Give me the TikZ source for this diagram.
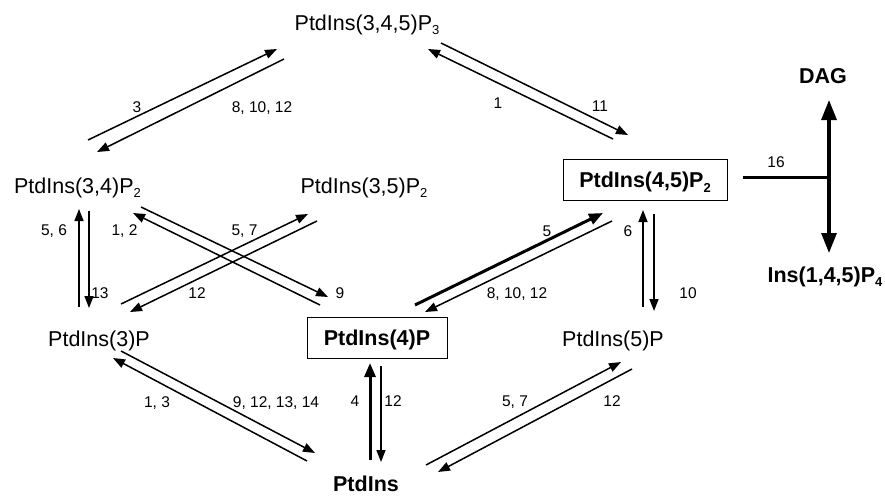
\documentclass[tikz,border=0pt]{standalone}
\usepackage{fontspec}
\setmainfont{Liberation Sans}
\usetikzlibrary{arrows.meta}
\newcommand{\mysub}[1]{\raisebox{-4.5pt}{\fontsize{13}{13}\selectfont #1}}
\begin{document}
\begin{tikzpicture}[x=1pt,y=-1pt,
  comp/.style={inner sep=0pt,anchor=base,font=\fontsize{21.5}{24}\selectfont},
  bcomp/.style={inner sep=0pt,anchor=base,font=\fontsize{21.5}{24}\selectfont\bfseries},
  boxed/.style={draw,line width=1pt,inner sep=0pt,minimum width=#1,minimum height=41pt,text height=16pt,text depth=0pt,font=\fontsize{21.5}{24}\selectfont\bfseries},
  lab/.style={inner sep=0pt,text height=11pt,text depth=0pt,font=\fontsize{15.5}{18}\selectfont},
  thin/.style={line width=1.5pt,-{Triangle[length=12pt,width=9pt]}},
  thick/.style={line width=3pt,-{Triangle[length=14pt,width=11pt]}},
  bar/.style={line width=3pt}]
\useasboundingbox (0,0) rectangle (885,495);
% components
\node[comp] (p345) at (367,30.5) {PtdIns(3,4,5)P\mysub{3}};
\node[comp] (p34) at (77.5,193) {PtdIns(3,4)P\mysub{2}};
\node[comp] (p35) at (364,193) {PtdIns(3,5)P\mysub{2}};
\node[boxed=164pt] (p45) at (645,179.5) {PtdIns(4,5)P\mysub{2}};
\node[bcomp] (dag) at (823,83) {DAG};
\node[bcomp] (ins) at (825,282) {Ins(1,4,5)P\mysub{4}};
\node[comp] (p3) at (99,346) {PtdIns(3)P};
\node[boxed=140pt] (p4) at (377,337.5) {PtdIns(4)P};
\node[comp] (p5) at (613,346) {PtdIns(5)P};
\node[bcomp] (pi) at (366,491.5) {PtdIns};
% arrow end points
\coordinate (a1s) at (88,140);   \coordinate (a1e) at (277,49);
\coordinate (a2s) at (284,59);   \coordinate (a2e) at (97,152);
\coordinate (a3s) at (441,43);   \coordinate (a3e) at (628,135);
\coordinate (a4s) at (613,139);  \coordinate (a4e) at (428,49);
\coordinate (a5s) at (79,307);   \coordinate (a5e) at (79,209);
\coordinate (a6s) at (89,211);   \coordinate (a6e) at (89,308);
\coordinate (a7s) at (320,305);  \coordinate (a7e) at (133,213);
\coordinate (a8s) at (141,207);  \coordinate (a8e) at (328,297);
\coordinate (a9s) at (121,304);  \coordinate (a9e) at (308,214);
\coordinate (a10s) at (317,221); \coordinate (a10e) at (130,312);
\coordinate (a11s) at (415,305); \coordinate (a11e) at (603,213);
\coordinate (a12s) at (612,221); \coordinate (a12e) at (425,312);
\coordinate (a13s) at (643,307); \coordinate (a13e) at (643,210);
\coordinate (a14s) at (654,214); \coordinate (a14e) at (654,311);
\coordinate (a15s) at (370,460); \coordinate (a15e) at (370,363);
\coordinate (a16s) at (381,366); \coordinate (a16e) at (381,462);
\coordinate (a17s) at (307,461); \coordinate (a17e) at (113,358);
\coordinate (a18s) at (121,351); \coordinate (a18e) at (315,453);
\coordinate (a19s) at (426,465); \coordinate (a19e) at (621,362);
\coordinate (a20s) at (632,369); \coordinate (a20e) at (438,472);
\coordinate (ts) at (743,177);   \coordinate (tj) at (829,177);
\coordinate (tup) at (829,100);  \coordinate (tdn) at (829,253);
% arrows
\draw[thin] (a1s) -- (a1e);
\draw[thin] (a2s) -- (a2e);
\draw[thin] (a3s) -- (a3e);
\draw[thin] (a4s) -- (a4e);
\draw[thin] (a5s) -- (a5e);
\draw[thin] (a6s) -- (a6e);
\draw[thin] (a7s) -- (a7e);
\draw[thin] (a8s) -- (a8e);
\draw[thin] (a9s) -- (a9e);
\draw[thin] (a10s) -- (a10e);
\draw[thick] (a11s) -- (a11e);
\draw[thin] (a12s) -- (a12e);
\draw[thin] (a13s) -- (a13e);
\draw[thin] (a14s) -- (a14e);
\draw[thick] (a15s) -- (a15e);
\draw[thin] (a16s) -- (a16e);
\draw[thin] (a17s) -- (a17e);
\draw[thin] (a18s) -- (a18e);
\draw[thin] (a19s) -- (a19e);
\draw[thin] (a20s) -- (a20e);
\draw[bar] (ts) -- (tj);
\draw[line width=3.2pt,{Triangle[length=20pt,width=15pt]}-{Triangle[length=20pt,width=15pt]}] (tup) -- (tdn);
% labels
\node[lab] (l1) at (137,107) {3};
\node[lab] (l2) at (262,107) {8, 10, 12};
\node[lab] (l3) at (498,103) {1};
\node[lab] (l4) at (600,106) {11};
\node[lab] (l5) at (776,162) {16};
\node[lab] (l6) at (54,230) {5, 6};
\node[lab] (l7) at (124.5,230) {1, 2};
\node[lab] (l8) at (244.5,230) {5, 7};
\node[lab] (l9) at (100,293) {13};
\node[lab] (l10) at (197,293) {12};
\node[lab] (l11) at (340,293) {9};
\node[lab] (l12) at (547,231) {5};
\node[lab] (l13) at (517,293) {8, 10, 12};
\node[lab] (l14) at (628,231) {6};
\node[lab] (l15) at (688,293) {10};
\node[lab] (l16) at (157,402) {1, 3};
\node[lab] (l17) at (276,402) {9, 12, 13, 14};
\node[lab] (l18) at (355,401) {4};
\node[lab] (l19) at (393,401) {12};
\node[lab] (l20) at (515,401) {5, 7};
\node[lab] (l21) at (612,401) {12};
\end{tikzpicture}
\end{document}
